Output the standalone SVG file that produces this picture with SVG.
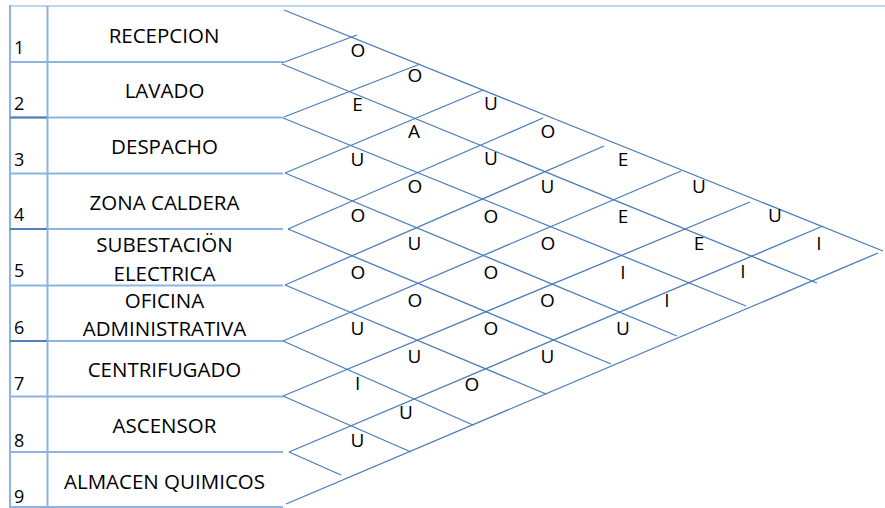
<svg xmlns="http://www.w3.org/2000/svg" width="885" height="508" viewBox="0 0 885 508">
<style>
.tbl{stroke:#8db3e2;stroke-width:2;fill:none}
.tbld{stroke:#4f81bd;stroke-width:2;fill:none}
.ln{stroke:#4a7ebb;stroke-width:1.3;fill:none}
text{font-family:"Open Sans","Liberation Sans",sans-serif;fill:#000}
.lbl{font-size:20.5px;text-anchor:middle}
.num{font-size:18px}
.rel{font-size:19px;text-anchor:middle}
</style>
<rect width="885" height="508" fill="#fff"/>
<g id="table">
<line class="tbl" x1="10" y1="6" x2="885" y2="6" style="stroke:#a9c4e8;stroke-width:1.6"/>
<line class="tbl" x1="10" y1="5" x2="10" y2="508"/>
<line class="tbl" x1="47.5" y1="6" x2="47.5" y2="508"/>
<line class="tbl" x1="10" y1="62" x2="283" y2="62"/>
<line class="tbl" x1="10" y1="117.5" x2="283" y2="117.5"/>
<line class="tbl" x1="10" y1="173.5" x2="283" y2="173.5"/>
<line class="tbl" x1="10" y1="229" x2="283" y2="229"/>
<line class="tbl" x1="10" y1="285.5" x2="283" y2="285.5"/>
<line class="tbl" x1="10" y1="341" x2="283" y2="341"/>
<line class="tbl" x1="10" y1="396.5" x2="283" y2="396.5"/>
<line class="tbl" x1="10" y1="452" x2="283" y2="452"/>
<line class="tbl" x1="10" y1="507" x2="283" y2="507"/>
<line class="tbld" x1="10" y1="117.5" x2="47" y2="117.5"/>
<line class="tbld" x1="10" y1="229" x2="47" y2="229"/>
<line class="tbld" x1="10" y1="341" x2="47" y2="341"/>
</g>
<g id="row1"><text class="num" x="14" y="54">1</text><text class="lbl" x="164" y="43">RECEPCION</text></g>
<g id="row2"><text class="num" x="14" y="110">2</text><text class="lbl" x="164.5" y="98">LAVADO</text></g>
<g id="row3"><text class="num" x="14" y="166">3</text><text class="lbl" x="164.5" y="154">DESPACHO</text></g>
<g id="row4"><text class="num" x="14" y="221">4</text><text class="lbl" x="164.5" y="210">ZONA CALDERA</text></g>
<g id="row5"><text class="num" x="14" y="277">5</text><text class="lbl" x="164.5" y="252">SUBESTACIÖN</text><text class="lbl" x="164.5" y="281">ELECTRICA</text></g>
<g id="row6"><text class="num" x="14" y="334">6</text><text class="lbl" x="164.5" y="308">OFICINA</text><text class="lbl" x="164.5" y="336">ADMINISTRATIVA</text></g>
<g id="row7"><text class="num" x="14" y="390">7</text><text class="lbl" x="164.5" y="377">CENTRIFUGADO</text></g>
<g id="row8"><text class="num" x="14" y="447">8</text><text class="lbl" x="164.5" y="433">ASCENSOR</text></g>
<g id="row9"><text class="num" x="14" y="503">9</text><text class="lbl" x="164.5" y="489">ALMACEN QUIMICOS</text></g>
<g id="connectors">
<line class="ln" x1="284" y1="10" x2="883" y2="251"/>
<line class="ln" x1="282" y1="64" x2="817" y2="283"/>
<line class="ln" x1="283" y1="118" x2="746" y2="306"/>
<line class="ln" x1="285" y1="173" x2="677" y2="336"/>
<line class="ln" x1="288" y1="229" x2="611" y2="364"/>
<line class="ln" x1="285" y1="285" x2="546" y2="394"/>
<line class="ln" x1="283" y1="341" x2="473" y2="425"/>
<line class="ln" x1="283" y1="396" x2="411" y2="452"/>
<line class="ln" x1="289" y1="452" x2="341" y2="475"/>
<line class="ln" x1="282" y1="63" x2="357" y2="35"/>
<line class="ln" x1="284" y1="117" x2="420" y2="64"/>
<line class="ln" x1="285" y1="173" x2="483" y2="90"/>
<line class="ln" x1="288" y1="229" x2="543" y2="118"/>
<line class="ln" x1="285" y1="285" x2="604" y2="146"/>
<line class="ln" x1="283" y1="341" x2="681" y2="171"/>
<line class="ln" x1="283" y1="396" x2="750" y2="202"/>
<line class="ln" x1="289" y1="452" x2="823" y2="226"/>
<line class="ln" x1="286" y1="504" x2="878" y2="253"/>
</g>
<g id="relations">
<text class="rel" x="358" y="57">O</text>
<text class="rel" x="415" y="82">O</text>
<text class="rel" x="357.5" y="111">E</text>
<text class="rel" x="491" y="110">U</text>
<text class="rel" x="414" y="138">A</text>
<text class="rel" x="548" y="138">O</text>
<text class="rel" x="357.5" y="166">U</text>
<text class="rel" x="491" y="165">U</text>
<text class="rel" x="623" y="166">E</text>
<text class="rel" x="415" y="193">O</text>
<text class="rel" x="547.5" y="193">U</text>
<text class="rel" x="699" y="193">U</text>
<text class="rel" x="358" y="222">O</text>
<text class="rel" x="491" y="223">O</text>
<text class="rel" x="623" y="223">E</text>
<text class="rel" x="775" y="222">U</text>
<text class="rel" x="414.5" y="250">U</text>
<text class="rel" x="548" y="250">O</text>
<text class="rel" x="699" y="250">E</text>
<text class="rel" x="819" y="250">I</text>
<text class="rel" x="358" y="279">O</text>
<text class="rel" x="491" y="279">O</text>
<text class="rel" x="623" y="279">I</text>
<text class="rel" x="743" y="278">I</text>
<text class="rel" x="415" y="307">O</text>
<text class="rel" x="547.5" y="307">O</text>
<text class="rel" x="667" y="307">I</text>
<text class="rel" x="357.5" y="335">U</text>
<text class="rel" x="491" y="335">O</text>
<text class="rel" x="623" y="335">U</text>
<text class="rel" x="414.5" y="363">U</text>
<text class="rel" x="547.5" y="363">U</text>
<text class="rel" x="357.7" y="390">I</text>
<text class="rel" x="472" y="391">O</text>
<text class="rel" x="406" y="419">U</text>
<text class="rel" x="357.5" y="447">U</text>
</g>
</svg>
